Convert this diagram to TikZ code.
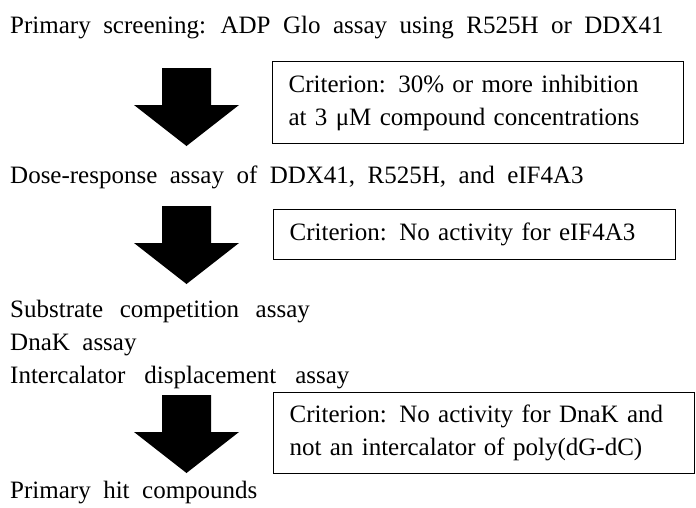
\documentclass[tikz,border=0pt]{standalone}
\usepackage{fontspec}
\setmainfont{Liberation Serif}[WordSpace=2]
\begin{document}
\begin{tikzpicture}[x=1pt,y=-1pt,
  every node/.style={font=\fontsize{25}{33}\selectfont, inner sep=0pt},
  steptext/.style={anchor=base west},
  widegap/.style={execute at begin node={\spaceskip=#1 plus 2pt minus 1pt\relax}},
  critbox/.style={draw, line width=1.2pt, anchor=north west, align=left, inner xsep=16pt, inner ysep=0pt},
  bigarrow/.pic={\fill[black] (-24.5,0) -- (24.5,0) -- (24.5,37) -- (52.5,37) -- (0,78) -- (-52.5,37) -- (-24.5,37) -- cycle;}]
\useasboundingbox (0,0) rectangle (696,507);
\node[steptext] (s1) at (10,33) {Primary screening: ADP Glo assay using R525H or DDX41};
\pic (a1) at (186.5,68) {bigarrow};
\node[critbox, text width=379pt, minimum height=82pt] (c1) at (272,61) {Criterion: 30\% or more inhibition\\at 3 μM compound concentrations};
\node[steptext] (s2) at (10,183) {Dose-response assay of DDX41, R525H, and eIF4A3};
\pic (a2) at (186.5,206) {bigarrow};
\node[critbox, text width=370pt, minimum height=50pt] (c2) at (273,209) {Criterion: No activity for eIF4A3};
\node[steptext, widegap=16.5pt] (s3) at (10,317) {Substrate competition assay};
\node[steptext] (s4) at (10,350) {DnaK assay};
\node[steptext, widegap=19pt] (s5) at (10,383) {Intercalator displacement assay};
\pic (a3) at (186.5,395) {bigarrow};
\node[critbox, text width=389pt, minimum height=81pt] (c3) at (273,392) {Criterion: No activity for DnaK and\\not an intercalator of poly(dG-dC)};
\node[steptext] (s6) at (10,498) {Primary hit compounds};
\end{tikzpicture}
\end{document}
